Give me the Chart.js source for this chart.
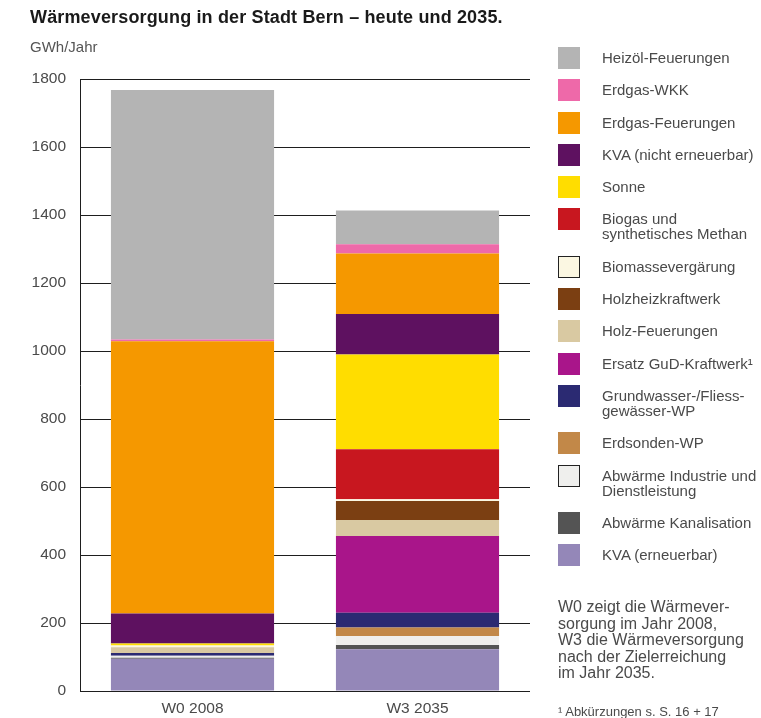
<!DOCTYPE html>
<html lang="de">
<head>
<meta charset="utf-8">
<title>Wärmeversorgung in der Stadt Bern</title>
<script src="https://cdn.jsdelivr.net/npm/chart.js@4/dist/chart.umd.min.js"></script>
<style>
  html, body { margin: 0; padding: 0; background: #fff; }
  body { width: 761px; height: 718px; position: relative; overflow: hidden;
         font-family: "Liberation Sans", Arial, Helvetica, sans-serif; }
  #wrap { position: absolute; left: 0; top: 0; width: 761px; height: 718px; }
  #title { position: absolute; left: 30px; top: 7px; font-size: 18px; font-weight: bold;
           color: #1a1a1a; white-space: nowrap; letter-spacing: 0.15px; }
  #unit { position: absolute; left: 30px; top: 38px; font-size: 15px; color: #555; }
  #legend { position: absolute; left: 558px; top: 47px; width: 205px; }
  .item { display: flex; align-items: flex-start; }
  .box { width: 22px; height: 22px; flex: none; box-sizing: border-box; }
  .txt { margin-left: 22px; font-size: 15px; line-height: 15px; color: #4a4a4a;
         padding-top: 3px; white-space: pre-line; }
  #note { position: absolute; left: 558px; top: 599px; font-size: 16px; line-height: 16.6px;
          color: #4a4a4a; }
  #foot { position: absolute; left: 558px; top: 704px; font-size: 13px; color: #4a4a4a; white-space: nowrap; }
</style>
</head>
<body>
<div id="wrap"><canvas id="chart" width="761" height="718"></canvas></div>
<div id="title">Wärmeversorgung in der Stadt Bern – heute und 2035.</div>
<div id="unit">GWh/Jahr</div>
<div id="legend"></div>
<div id="note">W0 zeigt die Wärmever-<br>sorgung im Jahr 2008,<br>W3 die Wärmeversorgung<br>nach der Zielerreichung<br>im Jahr 2035.</div>
<div id="foot">¹ Abkürzungen s. S. 16 + 17</div>
<script>
// Szenarien (x-Achse)
const categories = ['W0 2008', 'W3 2035'];

// Energieträger, von unten nach oben gestapelt
const sources = [
  'KVA (erneuerbar)',
  'Abwärme Kanalisation',
  'Abwärme Industrie und\nDienstleistung',
  'Erdsonden-WP',
  'Grundwasser-/Fliess-\ngewässer-WP',
  'Ersatz GuD-Kraftwerk¹',
  'Holz-Feuerungen',
  'Holzheizkraftwerk',
  'Biomassevergärung',
  'Biogas und\nsynthetisches Methan',
  'Sonne',
  'KVA (nicht erneuerbar)',
  'Erdgas-Feuerungen',
  'Erdgas-WKK',
  'Heizöl-Feuerungen'
];

// Wärmebedarf in GWh/Jahr, gleiche Reihenfolge wie sources
const valuesW0 = [95, 3, 6, 0, 8, 0, 17, 0, 5, 0, 6, 88, 801, 5, 734];
const valuesW3 = [123, 12, 27, 25, 43, 226, 47, 56, 5, 147, 279, 119, 178, 27, 99];

// y-Achse
const yTicks = [0, 200, 400, 600, 800, 1000, 1200, 1400, 1600, 1800];

const colors = [
  '#9487b8', '#545454', '#efefed', '#c28848', '#2b2a72',
  '#a9158a', '#d9c9a2', '#7b3f12', '#fbf7e2', '#c8171f',
  '#ffdd00', '#5e1160', '#f59800', '#ee69a9', '#b4b4b4'
];
const outlined = ['Abwärme Industrie und\nDienstleistung', 'Biomassevergärung'];

const datasets = sources.map((name, i) => ({
  label: name,
  data: [valuesW0[i], valuesW3[i]],
  backgroundColor: colors[i],
  borderWidth: 0,
  categoryPercentage: 1.0,
  barPercentage: 0.725
}));

const axisFont = { family: '"Liberation Sans", Arial, sans-serif', size: 15.5 };

const chart = new Chart(document.getElementById('chart'), {
  type: 'bar',
  data: { labels: categories, datasets },
  options: {
    responsive: false,
    animation: false,
    layout: { padding: { left: 0, right: 231, top: 79, bottom: 0 } },
    plugins: { legend: { display: false }, tooltip: { enabled: false } },
    scales: {
      x: {
        stacked: true,
        grid: { display: false, drawTicks: false },
        border: { display: false },
        ticks: { color: '#4a4a4a', padding: 8, font: axisFont },
        afterFit: s => { s.height = 27; }
      },
      y: {
        stacked: true,
        min: 0,
        max: yTicks[yTicks.length - 1],
        afterBuildTicks: s => { s.ticks = yTicks.map(v => ({ value: v })); },
        grid: { color: '#1e1e1e', lineWidth: 1, drawTicks: false },
        border: { display: true, color: '#1e1e1e', width: 1 },
        ticks: { color: '#4a4a4a', padding: 14, font: axisFont,
                 callback: v => String(v) },
        afterFit: s => { s.width = 80; }
      }
    }
  }
});

// Legende: oberster Stapelteil zuerst
const legend = document.getElementById('legend');
chart.data.datasets.slice().reverse().forEach(ds => {
  const lines = ds.label.split('\n').length;
  const item = document.createElement('div');
  item.className = 'item';
  item.style.height = (32.3 + 15 * (lines - 1)) + 'px';
  const box = document.createElement('div');
  box.className = 'box';
  box.style.background = ds.backgroundColor;
  if (outlined.includes(ds.label)) box.style.border = '1.5px solid #222';
  const txt = document.createElement('div');
  txt.className = 'txt';
  txt.textContent = ds.label;
  item.appendChild(box);
  item.appendChild(txt);
  legend.appendChild(item);
});
</script>
</body>
</html>
